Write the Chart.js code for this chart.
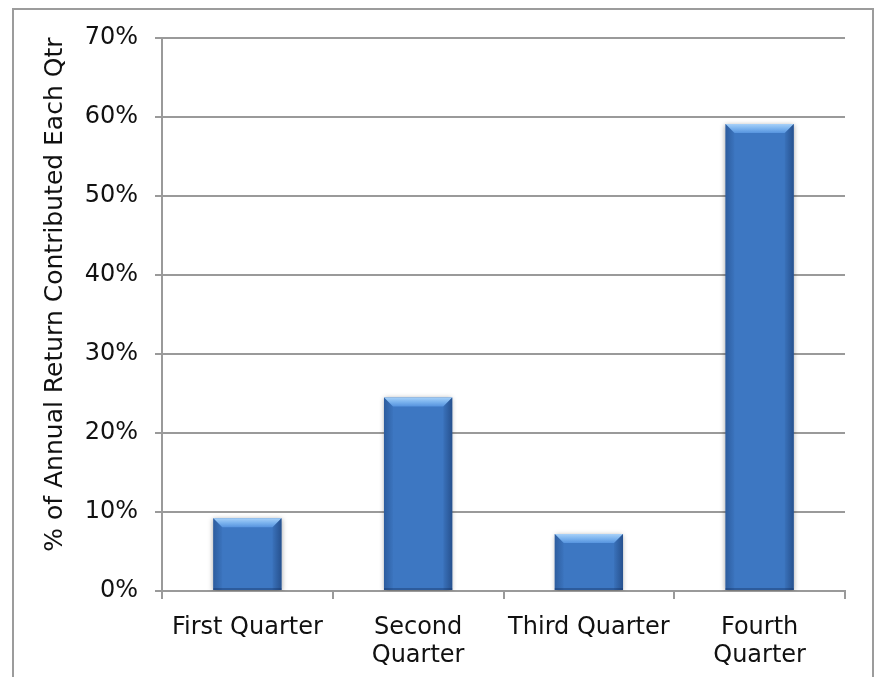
<!DOCTYPE html>
<html>
<head>
<meta charset="utf-8">
<script src="https://cdn.jsdelivr.net/npm/chart.js@4/dist/chart.umd.min.js"></script>
<style>
  html, body { margin: 0; padding: 0; background: #fff; }
  #wrap { width: 877px; height: 677px; }
</style>
</head>
<body>
<div id="wrap"><canvas id="qtr" width="877" height="677"></canvas></div>
<script>
const quarters = [['First Quarter'], ['Second', 'Quarter'], ['Third Quarter'], ['Fourth', 'Quarter']];
const contribution = [9.2, 24.5, 7.2, 59.1];
const yTicks = [0, 10, 20, 30, 40, 50, 60, 70];

const gridColor = '#9a9a9a';
const textColor = '#111';

// outer frame around the whole chart
const frame = {
    id: 'frame',
    beforeDraw(chart) {
        const ctx = chart.ctx;
        ctx.save();
        ctx.strokeStyle = '#9c9c9c';
        ctx.lineWidth = 2;
        ctx.beginPath();
        ctx.moveTo(13, 690);
        ctx.lineTo(13, 9);
        ctx.lineTo(873, 9);
        ctx.lineTo(873, 690);
        ctx.stroke();
        ctx.restore();
    }
};

// soft shadow under the bars, then a bevel on top and the sides
const bevel = {
    id: 'bevel',
    beforeDatasetsDraw(chart) {
        const ctx = chart.ctx;
        ctx.save();
        ctx.shadowColor = 'rgba(0,0,0,0.35)';
        ctx.shadowBlur = 5;
        ctx.shadowOffsetY = 1;
    },
    afterDatasetsDraw(chart) {
        const ctx = chart.ctx;
        ctx.restore();
        ctx.save();
        const b = 9;
        chart.getDatasetMeta(0).data.forEach(bar => {
            const l = bar.x - bar.width / 2;
            const r = bar.x + bar.width / 2;
            const t = bar.y;
            const bot = bar.base;
            // top face
            const g = ctx.createLinearGradient(0, t, 0, t + b);
            g.addColorStop(0, '#a6d0f8');
            g.addColorStop(0.5, '#7bb3ee');
            g.addColorStop(1, '#5693de');
            ctx.fillStyle = g;
            ctx.beginPath();
            ctx.moveTo(l, t);
            ctx.lineTo(r, t);
            ctx.lineTo(r - b, t + b);
            ctx.lineTo(l + b, t + b);
            ctx.closePath();
            ctx.fill();
            // left face
            let s = ctx.createLinearGradient(l, 0, l + b, 0);
            s.addColorStop(0, 'rgba(25,60,115,0.45)');
            s.addColorStop(1, 'rgba(25,60,115,0.05)');
            ctx.fillStyle = s;
            ctx.beginPath();
            ctx.moveTo(l, t);
            ctx.lineTo(l + b, t + b);
            ctx.lineTo(l + b, bot);
            ctx.lineTo(l, bot);
            ctx.closePath();
            ctx.fill();
            // right face
            s = ctx.createLinearGradient(r, 0, r - b, 0);
            s.addColorStop(0, 'rgba(20,50,100,0.55)');
            s.addColorStop(1, 'rgba(20,50,100,0.08)');
            ctx.fillStyle = s;
            ctx.beginPath();
            ctx.moveTo(r, t);
            ctx.lineTo(r - b, t + b);
            ctx.lineTo(r - b, bot);
            ctx.lineTo(r, bot);
            ctx.closePath();
            ctx.fill();
            // thin bottom edge
            ctx.fillStyle = 'rgba(20,50,100,0.4)';
            ctx.fillRect(l, bot - 2, r - l, 2);
        });
        ctx.restore();
    }
};

new Chart(document.getElementById('qtr'), {
    type: 'bar',
    data: {
        labels: quarters,
        datasets: [{
            data: contribution,
            backgroundColor: ctx => {
                const el = ctx.element;
                if (!el || el.y === undefined) return '#3d77c2';
                const g = ctx.chart.ctx.createLinearGradient(0, el.y, 0, el.base);
                g.addColorStop(0, '#4487d8');
                g.addColorStop(1, '#386aae');
                return g;
            },
            borderWidth: 0,
            barPercentage: 0.4,
            categoryPercentage: 1
        }]
    },
    options: {
        responsive: false,
        animation: false,
        layout: { padding: { left: 0, right: 32, top: 38, bottom: 0 } },
        plugins: {
            legend: { display: false },
            tooltip: { enabled: false }
        },
        scales: {
            x: {
                offset: true,
                grid: {
                    offset: true,
                    drawOnChartArea: false,
                    drawTicks: true,
                    tickLength: 8,
                    color: gridColor,
                    lineWidth: 2
                },
                border: { color: gridColor, width: 2 },
                ticks: {
                    color: textColor,
                    padding: 14,
                    maxRotation: 0,
                    font: { family: 'DejaVu Sans', size: 24, lineHeight: 1.2 }
                },
                afterFit(scale) { scale.height = 86; }
            },
            y: {
                min: 0,
                max: 70,
                afterBuildTicks(scale) {
                    scale.ticks = yTicks.map(v => ({ value: v }));
                },
                grid: {
                    color: gridColor,
                    lineWidth: 2,
                    drawTicks: true,
                    tickLength: 7
                },
                border: { color: gridColor, width: 2 },
                ticks: {
                    color: textColor,
                    padding: 17,
                    callback: v => v + '%',
                    font: { family: 'DejaVu Sans', size: 24 }
                },
                title: {
                    display: true,
                    // leading spaces lift the rotated title a little above the axis centre
                    text: '\u00a0\u00a0\u00a0\u00a0\u00a0% of Annual Return Contributed Each Qtr',
                    color: textColor,
                    padding: { top: 40, bottom: 0 },
                    font: { family: 'DejaVu Sans', size: 25, lineHeight: 1.2 }
                },
                afterFit(scale) { scale.width = 162; }
            }
        }
    },
    plugins: [frame, bevel]
});
</script>
</body>
</html>
